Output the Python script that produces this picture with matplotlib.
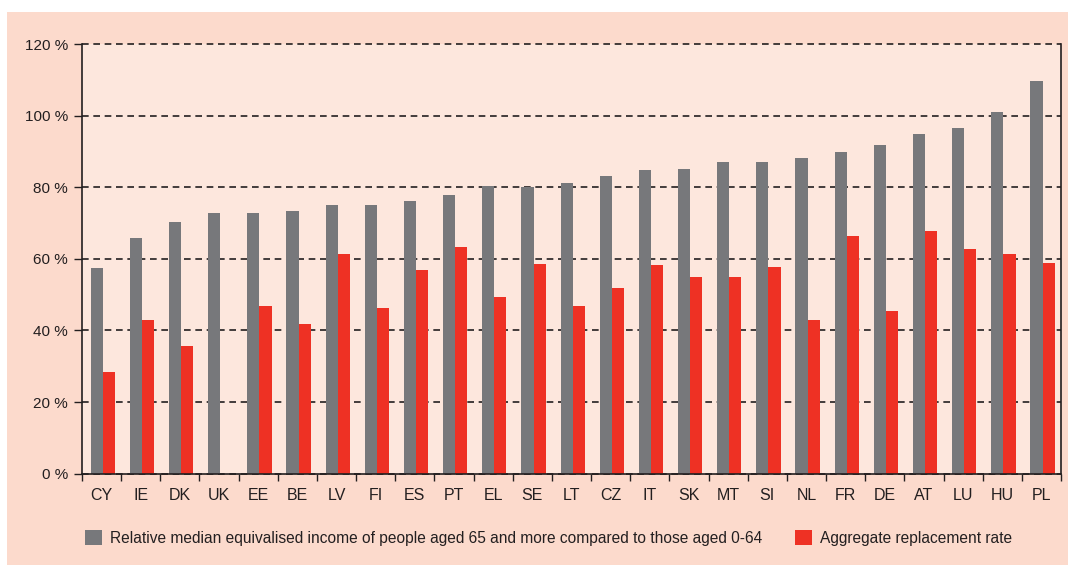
import numpy as np
import matplotlib.pyplot as plt
from matplotlib.patches import Rectangle

countries = ['CY', 'IE', 'DK', 'UK', 'EE', 'BE', 'LV', 'FI', 'ES', 'PT', 'EL', 'SE', 'LT',
             'CZ', 'IT', 'SK', 'MT', 'SI', 'NL', 'FR', 'DE', 'AT', 'LU', 'HU', 'PL']
relative_income = [57.4, 65.8, 70.2, 72.8, 72.8, 73.3, 75.0, 75.0, 76.1, 77.8, 80.3, 80.0, 81.1,
                   83.1, 84.8, 85.1, 87.0, 87.0, 88.2, 89.8, 91.8, 94.9, 96.5, 101.0, 109.7]
replacement_rate = [28.4, 42.9, 35.7, np.nan, 46.7, 41.8, 61.4, 46.3, 56.9, 63.2, 49.3, 58.5, 46.7,
                    51.9, 58.3, 54.9, 54.9, 57.7, 42.9, 66.3, 45.4, 67.7, 62.7, 61.4, 58.8]
y_ticks = [0, 20, 40, 60, 80, 100, 120]

grey = '#77787b'
red = '#ee3124'
outer_bg = '#fcdacc'
inner_bg = '#fde7dd'
ink = '#231f20'

plt.rcParams['font.family'] = ['Liberation Sans', 'DejaVu Sans']

fig = plt.figure(figsize=(10.68, 5.65), dpi=100)
fig.patch.set_facecolor('white')
fig.patches.append(Rectangle((7 / 1068, 0), 1 - 7 / 1068, 1 - 12 / 565,
                             transform=fig.transFigure, facecolor=outer_bg,
                             edgecolor='none', zorder=-10))

ax = fig.add_axes([82 / 1068, (565 - 473.7) / 565, (1061 - 82) / 1068, (473.7 - 44) / 565])
ax.set_facecolor(inner_bg)

x = np.arange(len(countries))
w = 0.31
b1 = ax.bar(x - w / 2 + 0.03, relative_income, w, color=grey, zorder=3,
            label='Relative median equivalised income of people aged 65 and more compared to those aged 0-64')
b2 = ax.bar(x + w / 2 + 0.03, replacement_rate, w, color=red, zorder=3,
            label='Aggregate replacement rate')

ax.set_xlim(-0.5, len(countries) - 0.5)
ax.set_ylim(0, 120)
ax.set_yticks(y_ticks)
ax.set_yticklabels([f'{v} %' for v in y_ticks])
ax.set_xticks(x)
ax.set_xticklabels(countries)
ax.set_xticks(np.arange(len(countries) + 1) - 0.5, minor=True)
ax.tick_params(axis='x', which='major', length=0, pad=10, labelsize=11.5, colors=ink)
ax.tick_params(axis='x', which='minor', length=5, width=1, color=ink, direction='out')
ax.tick_params(axis='y', length=6, width=1, color=ink, labelsize=11,
               labelcolor=ink, pad=4)

ax.grid(axis='y', color=ink, linestyle=(0, (4, 2.8)), linewidth=1.2, zorder=1)
for gl in ax.get_ygridlines():
    gl.set_clip_on(False)
for side in ['left', 'bottom', 'right']:
    ax.spines[side].set_color(ink)
    ax.spines[side].set_linewidth(1.2)
ax.spines['top'].set_visible(False)
ax.spines['bottom'].set_zorder(4)

fig.legend(handles=[b1, b2], loc='center left', bbox_to_anchor=(71 / 1068, 27 / 565),
           ncol=2, frameon=False, fontsize=11.2, handlelength=1.1, handleheight=1.1,
           handletextpad=0.5, columnspacing=2.1, labelcolor=ink)

fig.savefig('out.png', dpi=100)
